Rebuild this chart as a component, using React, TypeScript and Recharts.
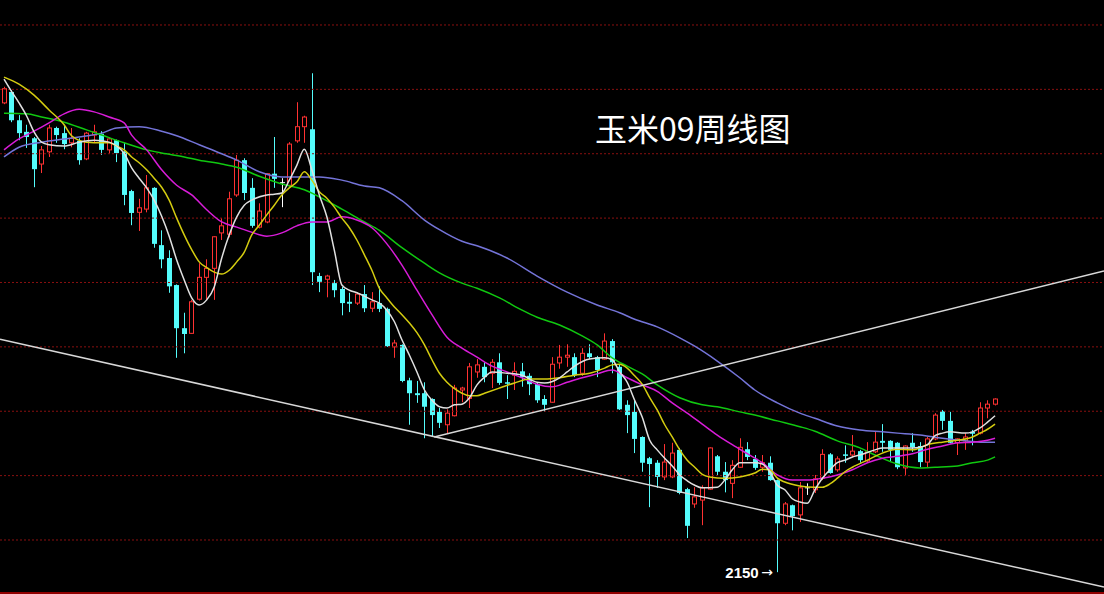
import React from 'react';
import { ComposedChart, Bar, Line, XAxis, YAxis, ReferenceLine, ReferenceDot } from 'recharts';

// Weekly candles, index 0..132 (prices)
const opens = [
  2879, 2896, 2852, 2834, 2824, 2784, 2803, 2840, 2832, 2817, 2820, 2792, 2829, 2831, 2806, 2821, 2803, 2742, 2709, 2714,
  2747, 2658, 2638, 2596, 2529, 2521, 2574, 2608, 2622, 2677, 2675, 2736, 2790, 2747, 2686, 2694, 2769, 2755, 2751, 2820,
  2842, 2838, 2610, 2605, 2599, 2590, 2570, 2568, 2582, 2560, 2568, 2559, 2500, 2503, 2448, 2428, 2428, 2419, 2399, 2379,
  2393, 2433, 2420, 2461, 2469, 2459, 2476, 2445, 2456, 2462, 2455, 2442, 2419, 2414, 2475, 2484, 2484, 2459, 2490, 2484,
  2481, 2509, 2469, 2410, 2399, 2360, 2327, 2320, 2298, 2298, 2340, 2279, 2256, 2262, 2279, 2330, 2306, 2288, 2313, 2341,
  2326, 2313, 2320, 2293, 2226, 2254, 2239, 2281, 2278, 2296, 2333, 2309, 2333, 2332, 2338, 2323, 2337, 2354, 2354, 2351,
  2312, 2351, 2346, 2321, 2357, 2400, 2385, 2351, 2354, 2368, 2366, 2405, 2411,
];
const highs = [
  2904, 2899, 2860, 2845, 2826, 2812, 2845, 2842, 2845, 2840, 2824, 2834, 2845, 2835, 2826, 2822, 2817, 2744, 2730, 2767,
  2748, 2681, 2650, 2597, 2553, 2573, 2630, 2636, 2672, 2700, 2741, 2798, 2793, 2762, 2723, 2770, 2826, 2762, 2818, 2880,
  2859, 2925, 2615, 2612, 2604, 2593, 2584, 2585, 2596, 2585, 2594, 2561, 2511, 2504, 2452, 2447, 2445, 2420, 2405, 2403,
  2441, 2438, 2475, 2481, 2476, 2481, 2490, 2456, 2476, 2475, 2459, 2445, 2425, 2484, 2503, 2504, 2490, 2498, 2504, 2486,
  2521, 2512, 2472, 2417, 2417, 2361, 2329, 2324, 2349, 2351, 2343, 2281, 2282, 2285, 2344, 2332, 2321, 2324, 2358, 2352,
  2332, 2332, 2330, 2294, 2259, 2255, 2290, 2288, 2301, 2341, 2335, 2330, 2347, 2363, 2340, 2352, 2368, 2380, 2355, 2352,
  2347, 2366, 2352, 2360, 2397, 2402, 2399, 2358, 2366, 2371, 2414, 2417, 2420,
];
const lows = [
  2877, 2849, 2821, 2809, 2748, 2770, 2795, 2817, 2807, 2810, 2783, 2790, 2818, 2798, 2800, 2787, 2720, 2689, 2680, 2709,
  2654, 2622, 2584, 2483, 2490, 2520, 2572, 2573, 2573, 2666, 2670, 2733, 2728, 2685, 2684, 2692, 2747, 2717, 2748, 2817,
  2817, 2596, 2585, 2577, 2577, 2549, 2554, 2565, 2554, 2554, 2554, 2500, 2483, 2445, 2379, 2413, 2358, 2360, 2374, 2366,
  2392, 2414, 2405, 2452, 2445, 2436, 2441, 2419, 2433, 2438, 2425, 2413, 2399, 2413, 2466, 2469, 2453, 2455, 2481, 2453,
  2480, 2459, 2402, 2366, 2335, 2306, 2251, 2281, 2293, 2296, 2271, 2203, 2250, 2223, 2278, 2301, 2274, 2265, 2312, 2324,
  2309, 2306, 2292, 2150, 2223, 2215, 2228, 2270, 2273, 2293, 2303, 2306, 2320, 2329, 2320, 2320, 2335, 2337, 2321, 2310,
  2301, 2337, 2313, 2313, 2355, 2371, 2350, 2332, 2340, 2347, 2364, 2389, 2409,
];
const closes = [
  2901, 2852, 2832, 2826, 2776, 2806, 2840, 2829, 2815, 2824, 2790, 2832, 2834, 2806, 2823, 2801, 2736, 2708, 2716, 2747,
  2660, 2636, 2594, 2529, 2520, 2570, 2608, 2622, 2671, 2688, 2730, 2790, 2739, 2688, 2711, 2769, 2761, 2755, 2815, 2842,
  2857, 2616, 2601, 2610, 2588, 2568, 2567, 2582, 2560, 2570, 2559, 2501, 2506, 2447, 2428, 2425, 2407, 2394, 2382, 2397,
  2436, 2436, 2469, 2472, 2453, 2476, 2444, 2443, 2462, 2453, 2442, 2417, 2410, 2473, 2484, 2487, 2456, 2490, 2484, 2464,
  2509, 2476, 2403, 2394, 2357, 2320, 2318, 2298, 2321, 2335, 2273, 2222, 2267, 2281, 2343, 2306, 2293, 2316, 2344, 2329,
  2312, 2320, 2293, 2226, 2256, 2237, 2281, 2281, 2295, 2333, 2304, 2326, 2331, 2338, 2324, 2337, 2352, 2351, 2340, 2313,
  2346, 2344, 2321, 2357, 2394, 2385, 2351, 2357, 2360, 2365, 2405, 2411, 2419,
];

// Moving averages: [candle index, price]
const ma5Points: [number, number][] = [
  [0, 2916], [1, 2897], [2, 2879], [3, 2859], [4, 2834], [5, 2818], [6, 2814], [8, 2812], [10, 2818], [12, 2821],
  [14, 2818], [15, 2812], [16, 2801], [17, 2778], [18, 2762], [19, 2747], [20, 2728], [21, 2703], [22, 2672], [23, 2635],
  [24, 2604], [25, 2576], [26, 2565], [27, 2573], [28, 2593], [29, 2638], [30, 2674], [31, 2702], [32, 2720], [33, 2728],
  [35, 2736], [36, 2737], [37, 2739], [38, 2759], [39, 2782], [40, 2807], [41, 2775], [42, 2736], [43, 2702], [44, 2650],
  [45, 2596], [46, 2588], [47, 2584], [49, 2573], [50, 2568], [51, 2557], [52, 2539], [53, 2511], [54, 2487], [55, 2461],
  [56, 2433], [57, 2417], [58, 2407], [59, 2405], [60, 2410], [61, 2411], [62, 2421], [63, 2441], [64, 2453], [65, 2461],
  [67, 2459], [69, 2456], [71, 2445], [72, 2444], [74, 2452], [75, 2461], [76, 2470], [78, 2481], [80, 2483], [81, 2480],
  [82, 2461], [83, 2445], [84, 2417], [85, 2391], [86, 2355], [87, 2340], [88, 2327], [89, 2315], [90, 2301], [91, 2292],
  [92, 2285], [93, 2281], [95, 2282], [96, 2293], [97, 2309], [98, 2320], [100, 2320], [101, 2318], [102, 2306], [103, 2285],
  [104, 2278], [105, 2264], [106, 2259], [107, 2257], [108, 2278], [109, 2296], [110, 2309], [111, 2320], [112, 2324],
  [113, 2329], [114, 2332], [116, 2340], [117, 2343], [119, 2343], [121, 2343], [122, 2344], [123, 2348], [124, 2362],
  [125, 2366], [126, 2368], [128, 2366], [129, 2368], [130, 2374], [131, 2383], [132, 2393],
];
const ma10Points: [number, number][] = [
  [0, 2919], [2, 2908], [4, 2891], [6, 2868], [8, 2845], [9, 2828], [11, 2818], [13, 2817], [14, 2817], [15, 2812],
  [16, 2806], [17, 2795], [18, 2786], [19, 2775], [20, 2762], [21, 2748], [22, 2728], [23, 2700], [24, 2674], [25, 2651],
  [26, 2632], [27, 2623], [28, 2616], [29, 2613], [30, 2619], [31, 2632], [32, 2647], [33, 2674], [34, 2689], [35, 2705],
  [36, 2720], [37, 2736], [38, 2747], [39, 2756], [40, 2772], [41, 2759], [42, 2741], [43, 2731], [44, 2717], [45, 2700],
  [46, 2685], [47, 2666], [48, 2643], [49, 2619], [50, 2591], [51, 2576], [52, 2562], [53, 2550], [54, 2537], [55, 2522],
  [56, 2503], [57, 2480], [58, 2459], [59, 2445], [60, 2435], [61, 2428], [62, 2424], [63, 2424], [64, 2428], [66, 2436],
  [68, 2444], [70, 2450], [72, 2450], [74, 2452], [76, 2456], [78, 2459], [80, 2467], [81, 2472], [82, 2473], [83, 2467],
  [84, 2455], [85, 2442], [86, 2421], [87, 2402], [88, 2379], [89, 2360], [90, 2340], [91, 2324], [92, 2313], [93, 2302],
  [94, 2298], [96, 2296], [98, 2298], [100, 2304], [101, 2310], [102, 2309], [103, 2296], [104, 2290], [106, 2284],
  [108, 2282], [109, 2282], [110, 2287], [111, 2296], [112, 2306], [113, 2313], [115, 2324], [117, 2335], [119, 2341],
  [121, 2340], [123, 2348], [125, 2352], [127, 2355], [129, 2360], [130, 2366], [131, 2372], [132, 2380],
];
const ma20Points: [number, number][] = [
  [0, 2806], [2, 2823], [4, 2835], [6, 2848], [8, 2862], [10, 2869], [12, 2865], [14, 2857], [16, 2848], [17, 2829],
  [19, 2806], [21, 2775], [23, 2751], [25, 2736], [27, 2713], [29, 2694], [31, 2686], [33, 2678], [35, 2672], [37, 2677],
  [39, 2688], [41, 2694], [43, 2694], [45, 2702], [47, 2697], [49, 2685], [51, 2660], [53, 2627], [55, 2588], [57, 2550],
  [59, 2515], [61, 2498], [63, 2484], [65, 2470], [67, 2461], [69, 2452], [71, 2442], [73, 2438], [75, 2445], [77, 2452],
  [79, 2458], [81, 2464], [83, 2452], [85, 2441], [87, 2431], [89, 2413], [91, 2397], [93, 2380], [95, 2363], [97, 2348],
  [99, 2334], [101, 2320], [103, 2301], [105, 2293], [107, 2293], [109, 2296], [111, 2301], [113, 2309], [115, 2320],
  [117, 2327], [119, 2330], [121, 2334], [123, 2341], [125, 2346], [127, 2351], [129, 2352], [131, 2355], [132, 2358],
];
const ma40Points: [number, number][] = [
  [0, 2863], [3, 2862], [5, 2857], [8, 2849], [11, 2837], [13, 2829], [16, 2817], [19, 2806], [21, 2801], [24, 2795],
  [26, 2790], [29, 2784], [31, 2779], [34, 2765], [37, 2753], [40, 2744], [42, 2733], [45, 2714], [48, 2694], [50, 2681],
  [53, 2654], [56, 2630], [58, 2615], [61, 2599], [63, 2591], [66, 2576], [69, 2557], [71, 2546], [74, 2534], [77, 2517],
  [79, 2503], [81, 2483], [83, 2470], [85, 2458], [87, 2441], [90, 2421], [93, 2410], [95, 2407], [98, 2399], [100, 2394],
  [103, 2385], [106, 2376], [108, 2369], [111, 2354], [114, 2343], [116, 2332], [119, 2318], [122, 2312], [124, 2313],
  [127, 2315], [129, 2320], [131, 2324], [132, 2329],
];
const ma60Points: [number, number][] = [
  [0, 2795], [2, 2810], [5, 2818], [8, 2823], [10, 2826], [13, 2832], [15, 2840], [18, 2842], [21, 2835], [23, 2828],
  [26, 2814], [29, 2800], [31, 2790], [34, 2772], [37, 2764], [40, 2764], [42, 2764], [45, 2759], [48, 2750], [50, 2747],
  [53, 2727], [56, 2697], [58, 2682], [61, 2664], [63, 2657], [67, 2638], [71, 2610], [75, 2585], [79, 2565], [82, 2553],
  [84, 2543], [87, 2531], [90, 2514], [92, 2501], [95, 2478], [98, 2452], [100, 2433], [103, 2413], [106, 2397],
  [108, 2389], [111, 2377], [114, 2371], [117, 2368], [119, 2366], [122, 2363], [125, 2358], [128, 2354], [130, 2352],
  [132, 2352],
];

const gridPrices = [2200, 2300, 2400, 2500, 2600, 2700, 2800, 2900, 3000];
const titleText = '玉米09周线图';
const lowLabel = '2150';
const lowIndex = 103;
const lowPrice = 2150;
const supportLine: [number, number][] = [[-0.533, 2512], [146.51, 2127]];
const riseLine: [number, number][] = [[57.3, 2360], [146.51, 2618]];

const X_DOMAIN: [number, number] = [-0.533, 146.51];
const Y_DOMAIN: [number, number] = [2116.1, 3038.8];

const RED = '#ff3232';
const CYAN = '#54fcfc';

type Row = { i: number; open: number; high: number; low: number; close: number; [k: string]: number | undefined };

const rows: Row[] = opens.map((o, i) => ({ i, open: o, high: highs[i], low: lows[i], close: closes[i] }));
const addMa = (pts: [number, number][], key: string) => {
  pts.forEach(([i, v]) => {
    rows[i][key] = v;
  });
};
addMa(ma5Points, 'ma5');
addMa(ma10Points, 'ma10');
addMa(ma20Points, 'ma20');
addMa(ma40Points, 'ma40');
addMa(ma60Points, 'ma60');

const Candle = (props: any) => {
  const { x, y, width, height, payload } = props;
  if (x == null || y == null || !payload) return null;
  const top = Math.min(y, y + height);
  const bot = Math.max(y, y + height);
  const span = payload.high - payload.low;
  const toPx = (v: number) => (span === 0 ? top : top + ((payload.high - v) / span) * (bot - top));
  const left = Math.round(x + width / 2) - 2;
  const cx = left + 2.5;
  const yo = toPx(payload.open);
  const yc = toPx(payload.close);
  const bt = Math.min(yo, yc);
  const bb = Math.max(yo, yc);
  if (payload.open === payload.close) {
    return (
      <g>
        <line x1={cx} x2={cx} y1={top} y2={bot} stroke="#ffffff" strokeWidth={1} />
        <line x1={left} x2={left + 5} y1={yo} y2={yo} stroke="#ffffff" strokeWidth={1} />
      </g>
    );
  }
  if (payload.close > payload.open) {
    return (
      <g>
        <line x1={cx} x2={cx} y1={top} y2={bt} stroke={RED} strokeWidth={1} />
        <line x1={cx} x2={cx} y1={bb} y2={bot} stroke={RED} strokeWidth={1} />
        <rect x={left + 0.5} y={bt} width={4} height={Math.max(bb - bt, 1)} fill="#000" stroke={RED} strokeWidth={1} />
      </g>
    );
  }
  return (
    <g>
      <line x1={cx} x2={cx} y1={top} y2={bot} stroke={CYAN} strokeWidth={1} />
      <rect x={left} y={bt} width={5} height={Math.max(bb - bt, 1.5)} fill={CYAN} />
    </g>
  );
};

const LowLabel = (props: any) => {
  const vb = props.viewBox || {};
  const cx = (vb.x || 0) + (vb.width || 0) / 2;
  const cy = (vb.y || 0) + (vb.height || 0) / 2;
  return (
    <g>
      <text x={cx - 52} y={cy + 6} fill="#ffffff" fontSize={15} fontWeight="bold" fontFamily="'Liberation Sans', Arial, sans-serif">
        {lowLabel}
      </text>
      <text x={cx - 16} y={cy + 5} fill="#ffffff" fontSize={14} fontFamily="'DejaVu Sans', sans-serif">
        →
      </text>
    </g>
  );
};

const maLine = (key: string, color: string) => (
  <Line
    key={key}
    dataKey={key}
    type="monotone"
    stroke={color}
    strokeWidth={1.5}
    dot={false}
    activeDot={false}
    connectNulls
    isAnimationActive={false}
  />
);

export default function App() {
  return (
    <div style={{ position: 'absolute', left: 0, top: 0, width: 1104, height: 594, background: '#000', overflow: 'hidden' }}>
      <ComposedChart width={1104} height={594} data={rows} margin={{ top: 0, right: 0, bottom: 0, left: 0 }}>
        <XAxis dataKey="i" type="number" domain={X_DOMAIN} allowDataOverflow hide />
        <YAxis type="number" domain={Y_DOMAIN} allowDataOverflow hide />
        {gridPrices.map((p) => (
          <ReferenceLine key={p} y={p} stroke="#8a1010" strokeDasharray="2 2" strokeWidth={1} ifOverflow="visible" />
        ))}
        <Bar dataKey={(d: Row) => [d.low, d.high]} shape={Candle} barSize={5} isAnimationActive={false} />
        {maLine('ma60', '#7474d8')}
        {maLine('ma40', '#10c810')}
        {maLine('ma20', '#d81cd8')}
        {maLine('ma10', '#d4cc10')}
        {maLine('ma5', '#e0e0e0')}
        <ReferenceLine
          segment={[{ x: supportLine[0][0], y: supportLine[0][1] }, { x: supportLine[1][0], y: supportLine[1][1] }]}
          stroke="#d8d8d8"
          strokeWidth={1.5}
          ifOverflow="visible"
        />
        <ReferenceLine
          segment={[{ x: riseLine[0][0], y: riseLine[0][1] }, { x: riseLine[1][0], y: riseLine[1][1] }]}
          stroke="#d8d8d8"
          strokeWidth={1.5}
          ifOverflow="visible"
        />
        <ReferenceDot x={lowIndex} y={lowPrice} r={1} fill="none" stroke="none" ifOverflow="visible" label={<LowLabel />} />
      </ComposedChart>
      <div
        style={{
          position: 'absolute',
          left: 595,
          top: 109,
          fontSize: 32,
          lineHeight: '36px',
          color: '#ffffff',
          fontFamily: "'Noto Sans CJK SC', 'Noto Sans', sans-serif",
          whiteSpace: 'nowrap',
        }}
      >
        {titleText}
      </div>
      <div style={{ position: 'absolute', left: 0, top: 592, width: 1104, height: 2, background: '#900000' }} />
    </div>
  );
}
